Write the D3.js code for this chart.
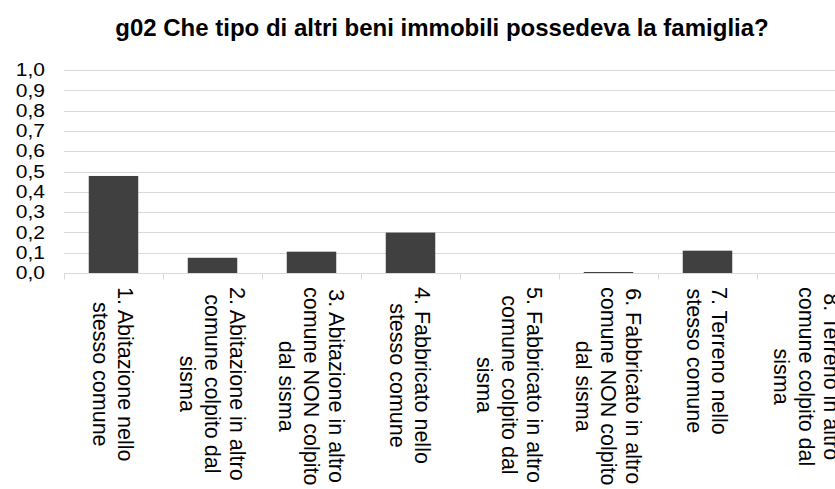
<!DOCTYPE html>
<html>
<head>
<meta charset="utf-8">
<script src="https://cdn.jsdelivr.net/npm/d3@7"></script>
<style>
  body { margin: 0; background: #fff; }
  svg { display: block; font-family: "Liberation Sans", Arial, sans-serif; }
</style>
</head>
<body>
<div id="chart"></div>
<script>
// data
const categories = [
  ["1. Abitazione nello", "stesso comune"],
  ["2. Abitazione in altro", "comune colpito dal", "sisma"],
  ["3. Abitazione in altro", "comune NON colpito", "dal sisma"],
  ["4. Fabbricato nello", "stesso comune"],
  ["5. Fabbricato in altro", "comune colpito dal", "sisma"],
  ["6. Fabbricato in altro", "comune NON colpito", "dal sisma"],
  ["7. Terreno nello", "stesso comune"],
  ["8. Terreno in altro", "comune colpito dal", "sisma"]
];
const values = [0.478, 0.075, 0.105, 0.199, 0, 0.005, 0.11, 0];
const yTicks = [0, 0.1, 0.2, 0.3, 0.4, 0.5, 0.6, 0.7, 0.8, 0.9, 1.0];
const title = "g02 Che tipo di altri beni immobili possedeva la famiglia?";

var width = 835, height = 489;
var margin = {top: 70, left: 64, bottom: 216};

const svg = d3.select("#chart").append("svg")
    .attr("width", width)
    .attr("height", height);

const data = categories.map((c, i) => ({key: i, lines: c, value: values[i]}));

const xscale = d3.scaleBand()
    .domain(data.map(d => d.key))
    .range([margin.left, margin.left + 99 * categories.length])
    .paddingInner(0.5)
    .paddingOuter(0.25);

const yscale = d3.scaleLinear()
    .domain([0, 1])
    .range([height - margin.bottom, margin.top]);

// title
svg.append("text")
    .attr("x", 442)
    .attr("y", 36)
    .attr("text-anchor", "middle")
    .attr("font-size", "24px")
    .attr("font-weight", "bold")
    .attr("fill", "#000")
    .text(title);

// gridlines
svg.append("g")
    .selectAll("line")
    .data(yTicks.slice(1))
    .enter()
    .append("line")
    .attr("x1", margin.left)
    .attr("x2", xscale.range()[1])
    .attr("y1", d => Math.round(yscale(d)) + 0.5)
    .attr("y2", d => Math.round(yscale(d)) + 0.5)
    .attr("stroke", "#d9d9d9")
    .attr("stroke-width", 1);

// y axis labels
const yaxis = d3.axisLeft(yscale)
    .tickValues(yTicks)
    .tickSize(0)
    .tickPadding(19)
    .tickFormat(d => d3.format(".1f")(d).replace(".", ","));

const yaxisG = svg.append("g")
    .attr("transform", "translate(" + margin.left + ",0)")
    .call(yaxis);
yaxisG.select(".domain").remove();
yaxisG.selectAll("text")
    .attr("font-size", "21px")
    .attr("font-family", "Liberation Sans, Arial, sans-serif")
    .attr("fill", "#000")
    .attr("transform", "scale(1,0.85)");

// bars
svg.append("g")
    .selectAll("rect")
    .data(data)
    .enter()
    .append("rect")
    .attr("x", d => xscale(d.key))
    .attr("y", d => yscale(d.value))
    .attr("width", xscale.bandwidth())
    .attr("height", d => yscale(0) - yscale(d.value))
    .attr("fill", "#404040");

// x axis line + ticks at category boundaries
const y0 = Math.round(yscale(0)) + 0.5;
svg.append("line")
    .attr("x1", margin.left)
    .attr("x2", xscale.range()[1])
    .attr("y1", y0)
    .attr("y2", y0)
    .attr("stroke", "#d9d9d9");

const step = xscale.step();
svg.append("g")
    .selectAll("line")
    .data(d3.range(categories.length + 1))
    .enter()
    .append("line")
    .attr("x1", i => Math.round(margin.left + i * step) + 0.5)
    .attr("x2", i => Math.round(margin.left + i * step) + 0.5)
    .attr("y1", y0)
    .attr("y2", y0 + 6)
    .attr("stroke", "#d9d9d9");

// rotated category labels
var fs = 21.5, lh = 25;
const labels = svg.append("g")
    .selectAll("g")
    .data(data)
    .enter()
    .append("g")
    .attr("transform", d => "translate(" + (xscale(d.key) + xscale.bandwidth() / 2) + "," + 287 + ") rotate(90)");

labels.each(function(d) {
    const g = d3.select(this);
    const n = d.lines.length;
    const texts = g.selectAll("text")
        .data(d.lines)
        .enter()
        .append("text")
        .attr("font-size", fs + "px")
        .attr("fill", "#000")
        .attr("text-anchor", "middle")
        .attr("y", (l, i) => (i - (n - 1) / 2) * lh + fs * 0.36)
        .text(l => l);
    var maxW = 0;
    texts.each(function() { maxW = Math.max(maxW, this.getComputedTextLength()); });
    texts.attr("x", maxW / 2);
});
</script>
</body>
</html>
